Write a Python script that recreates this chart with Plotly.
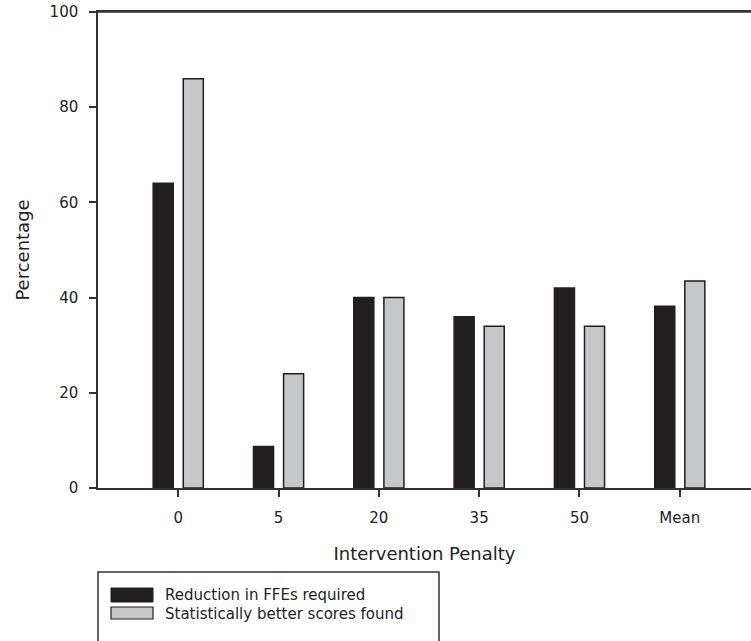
import plotly.graph_objects as go

categories = ["0", "5", "20", "35", "50", "Mean"]
reduction_ffes = [64, 8.7, 40, 36, 42, 38.2]
better_scores = [86, 24, 40, 34, 34, 43.5]
series_names = ["Reduction in FFEs required", "Statistically better scores found"]
y_ticks = [0, 20, 40, 60, 80, 100]

W, H = 751, 641
L, R, T, B = 98, 0, 12, 153
FONT = "DejaVu Sans"
DARK = "#231f20"
GREY = "#c6c7c9"
AX = "#333333"

fig = go.Figure()
fig.add_trace(go.Bar(x=categories, y=reduction_ffes, name=series_names[0],
                     marker=dict(color=DARK, line=dict(color=DARK, width=1.5))))
fig.add_trace(go.Bar(x=categories, y=better_scores, name=series_names[1],
                     marker=dict(color=GREY, line=dict(color=DARK, width=1.5))))

pw, ph = W - L - R, H - T - B
def px(x):
    return (x - L) / pw
def py(y):
    return (H - B - y) / ph

shapes = [
    dict(type="line", xref="paper", yref="paper", x0=0, x1=1, y0=1, y1=1,
         line=dict(color=AX, width=1.5)),
    dict(type="rect", xref="paper", yref="paper", x0=px(98), x1=px(439), y0=py(660), y1=py(572),
         line=dict(color=AX, width=1.5), fillcolor="rgba(0,0,0,0)"),
    dict(type="rect", xref="paper", yref="paper", x0=px(111), x1=px(153), y0=py(602), y1=py(588),
         line=dict(color=DARK, width=1), fillcolor=DARK),
    dict(type="rect", xref="paper", yref="paper", x0=px(111), x1=px(153), y0=py(619), y1=py(607),
         line=dict(color=DARK, width=1.2), fillcolor=GREY),
]
annotations = [
    dict(xref="paper", yref="paper", x=px(163), y=py(595), text=series_names[0], showarrow=False,
         xanchor="left", yanchor="middle", font=dict(family=FONT, size=15, color="#222")),
    dict(xref="paper", yref="paper", x=px(163), y=py(614), text=series_names[1], showarrow=False,
         xanchor="left", yanchor="middle", font=dict(family=FONT, size=15, color="#222")),
]

fig.update_layout(
    width=W, height=H,
    margin=dict(l=L, r=R, t=T, b=B, autoexpand=False),
    paper_bgcolor="white", plot_bgcolor="white",
    barmode="group", bargap=0.4, bargroupgap=1/3,
    showlegend=False,
    font=dict(family=FONT, size=15, color="#222"),
    shapes=shapes, annotations=annotations,
    xaxis=dict(type="category", range=[-0.8, 5.71], showline=True, linecolor=AX, linewidth=1.5,
               mirror=True, ticks="outside", ticklen=7, tickcolor=AX, tickwidth=1.5,
               showgrid=False, zeroline=False, ticklabelstandoff=8, automargin=False,
               tickfont=dict(family=FONT, size=15, color="#222"),
               title=dict(text="Intervention Penalty", standoff=22,
                          font=dict(family=FONT, size=18, color="#222"))),
    yaxis=dict(range=[0, 100], tickvals=y_ticks, showline=True, linecolor=AX, linewidth=1.5,
               ticks="outside", ticklen=7, tickcolor=AX, tickwidth=1.5,
               showgrid=False, zeroline=False, ticklabelstandoff=8, automargin=False,
               ticklabeloverflow="allow",
               tickfont=dict(family=FONT, size=15, color="#222"),
               title=dict(text="Percentage", standoff=15,
                          font=dict(family=FONT, size=18, color="#222"))),
)

fig.write_html("out.html", config={"displayModeBar": False},
               post_script="document.body.style.margin='0';document.body.style.overflow='hidden';")
